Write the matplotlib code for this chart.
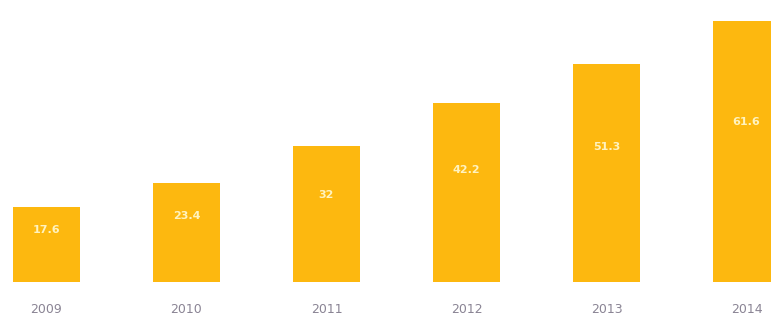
import matplotlib.pyplot as plt
import numpy as np

years = ['2009', '2010', '2011', '2012', '2013', '2014']
values = [17.6, 23.4, 32, 42.2, 51.3, 61.6]
labels = ['17.6', '23.4', '32', '42.2', '51.3', '61.6']

fig = plt.figure(figsize=(7.71, 3.19), dpi=100)
ax = fig.add_axes([0, 0.116, 1, 0.884])

x = np.arange(len(years))
ax.bar(x, values, width=0.48, color='#FDB80F')

for xi, v, lab in zip(x, values, labels):
    ax.text(xi, 0.58 * v + 2, lab, ha='center', va='center',
            color='#FFF3C0', fontsize=8, fontweight='bold')

ax.set_xlim(-0.332, 5.175)
ax.set_ylim(0, 66.5)
ax.set_xticks(x)
ax.set_xticklabels(years, color='#8a8494', fontsize=9)
ax.tick_params(axis='x', length=0, pad=15)
ax.set_yticks([])
for s in ax.spines.values():
    s.set_visible(False)

fig.savefig('out.png', dpi=100)
